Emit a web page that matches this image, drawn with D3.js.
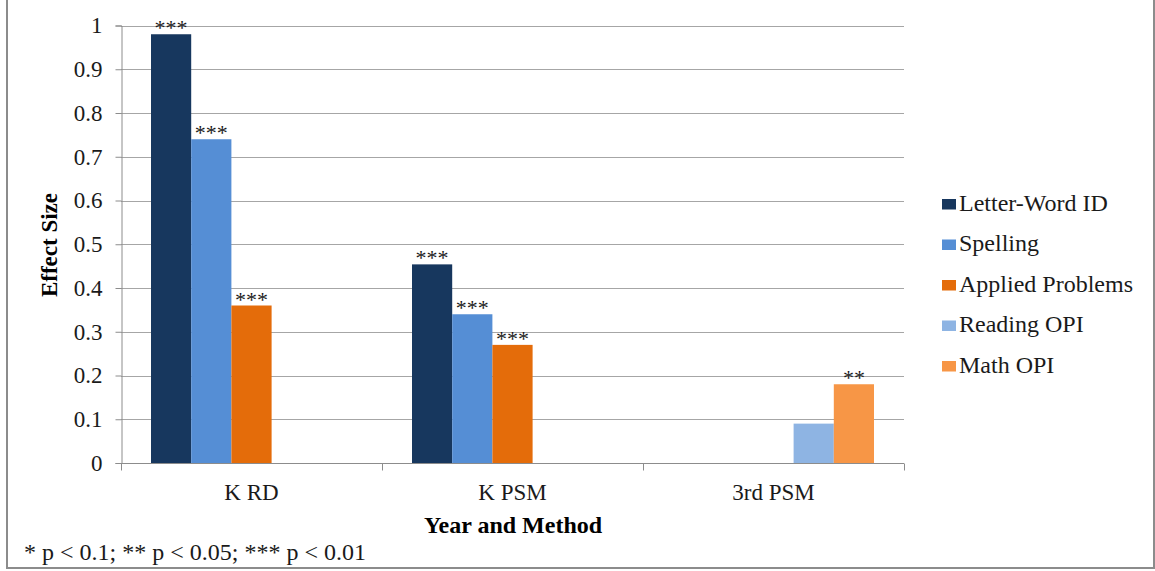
<!DOCTYPE html>
<html>
<head>
<meta charset="utf-8">
<script src="https://cdn.jsdelivr.net/npm/d3@7/dist/d3.min.js"></script>
<style>
  html, body { margin: 0; padding: 0; background: #fff; }
  svg { display: block; font-family: "Liberation Serif", "Times New Roman", serif; }
</style>
</head>
<body>
<svg id="chart" width="1155" height="571"></svg>
<script>
const categories = ["K RD", "K PSM", "3rd PSM"];
const seriesNames = ["Letter-Word ID", "Spelling", "Applied Problems", "Reading OPI", "Math OPI"];
const letterWordID = [0.98, 0.454, null];
const spelling = [0.74, 0.34, null];
const appliedProblems = [0.36, 0.27, null];
const readingOPI = [null, null, 0.09];
const mathOPI = [null, null, 0.18];
const sigLetterWordID = ["***", "***", ""];
const sigSpelling = ["***", "***", ""];
const sigAppliedProblems = ["***", "***", ""];
const sigReadingOPI = ["", "", ""];
const sigMathOPI = ["", "", "**"];
const yTicks = [0, 0.1, 0.2, 0.3, 0.4, 0.5, 0.6, 0.7, 0.8, 0.9, 1];
const colors = ["#17375E", "#558ED5", "#E46C0A", "#8EB4E3", "#F79646"];
const footnote = "* p < 0.1; ** p < 0.05; *** p < 0.01";

const seriesValues = [letterWordID, spelling, appliedProblems, readingOPI, mathOPI];
const seriesSig = [sigLetterWordID, sigSpelling, sigAppliedProblems, sigReadingOPI, sigMathOPI];

const svg = d3.select("#chart");

// outer border
svg.append("path")
  .attr("d", "M7,0 V568 H1154 V0")
  .attr("fill", "none")
  .attr("stroke", "#8c8c8c")
  .attr("stroke-width", 2);

const pLeft = 121, pRight = 904, pTop = 25.5, pBottom = 463;

const x = d3.scaleBand().domain(categories).range([pLeft, pRight]).paddingInner(0).paddingOuter(0);
const y = d3.scaleLinear().domain([0, 1]).range([pBottom, pTop]);

const gapPx = 30;
const x1 = d3.scaleBand().domain(seriesNames)
  .range([0, x.bandwidth()])
  .paddingInner(0).paddingOuter(gapPx / ((x.bandwidth() - 2 * gapPx) / seriesNames.length));

// gridlines
svg.append("g").selectAll("line").data(yTicks.filter(d => d > 0)).join("line")
  .attr("x1", pLeft).attr("x2", pRight)
  .attr("y1", d => Math.round(y(d)) + 0.5).attr("y2", d => Math.round(y(d)) + 0.5)
  .attr("stroke", "#a6a6a6").attr("stroke-width", 1);

// y axis
const yAxis = d3.axisLeft(y).tickValues(yTicks).tickSize(6).tickPadding(13)
  .tickFormat(d => String(+d.toFixed(1)));
const gy = svg.append("g").attr("transform", `translate(${pLeft + 0.5},0)`).call(yAxis);
gy.select(".domain").attr("stroke", "#8c8c8c");
gy.selectAll(".tick line").attr("stroke", "#8c8c8c");
gy.selectAll(".tick text").attr("font-size", 23).attr("fill", "#1a1a1a")
  .attr("font-family", "Liberation Serif");

// x axis
const xAxis = d3.axisBottom(x).tickSize(0).tickPadding(20);
const gx = svg.append("g").attr("transform", `translate(0,${pBottom + 0.5})`).call(xAxis);
gx.select(".domain").attr("stroke", "#8c8c8c").attr("d", `M${pLeft},0H${pRight}`);
gx.selectAll(".tick text").attr("font-size", 23).attr("fill", "#1a1a1a")
  .attr("font-family", "Liberation Serif");
// category boundary ticks
const bounds = categories.map(c => x(c)).concat([x(categories[categories.length - 1]) + x.bandwidth()]);
gx.selectAll(".bound").data(bounds).join("line")
  .attr("class", "bound")
  .attr("x1", d => Math.round(d) + 0.5).attr("x2", d => Math.round(d) + 0.5)
  .attr("y1", 0).attr("y2", 7)
  .attr("stroke", "#8c8c8c");

// bars
const barLayer = svg.append("g");
const labelLayer = svg.append("g");
seriesNames.forEach((name, si) => {
  categories.forEach((cat, ci) => {
    const v = seriesValues[si][ci];
    if (v == null) return;
    const bx = x(cat) + x1(name);
    barLayer.append("rect")
      .attr("x", bx).attr("y", y(v))
      .attr("width", x1.bandwidth()).attr("height", y(0) - y(v))
      .attr("fill", colors[si]);
    const s = seriesSig[si][ci];
    if (s) {
      labelLayer.append("text")
        .attr("x", bx + x1.bandwidth() / 2).attr("y", y(v) + 1)
        .attr("text-anchor", "middle")
        .attr("font-size", 22).attr("fill", "#1a1a1a")
        .text(s);
    }
  });
});

// axis titles
svg.append("text")
  .attr("transform", "translate(57,245) rotate(-90)")
  .attr("text-anchor", "middle")
  .attr("font-size", 23).attr("font-weight", "bold").attr("fill", "#000")
  .text("Effect Size");
svg.append("text")
  .attr("x", 513).attr("y", 533)
  .attr("text-anchor", "middle")
  .attr("font-size", 24).attr("font-weight", "bold").attr("fill", "#000")
  .text("Year and Method");

// footnote
svg.append("text")
  .attr("x", 24).attr("y", 560)
  .attr("font-size", 24).attr("fill", "#1a1a1a")
  .text(footnote);

// legend
const legend = svg.append("g").selectAll("g").data(seriesNames).join("g")
  .attr("transform", (d, i) => `translate(942,${210.5 + i * 40.5})`);
legend.append("rect").attr("x", 0).attr("y", -11.5).attr("width", 14).attr("height", 10.5)
  .attr("fill", (d, i) => colors[i]);
legend.append("text").attr("x", 17).attr("y", 0)
  .attr("font-size", 24).attr("fill", "#1a1a1a")
  .text(d => d);
</script>
</body>
</html>
